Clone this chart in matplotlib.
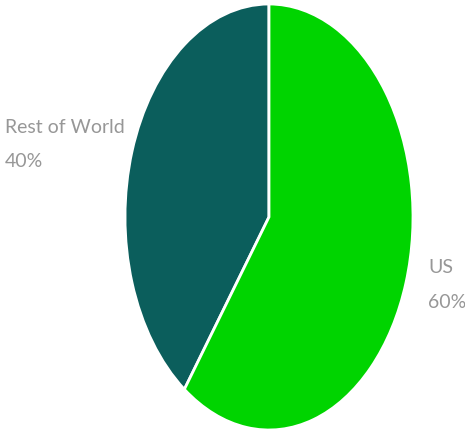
import matplotlib
matplotlib.use("Agg")
import matplotlib.pyplot as plt

categories = ["Rest of World", "US"]
values = [40, 60]
colors = ["#0b5e5c", "#00d400"]

W, H = 465, 431
fig = plt.figure(figsize=(W / 100, H / 100), dpi=100)
cx, cy, rx, ry = 269, 218, 144, 213
ax = fig.add_axes([(cx - rx) / W, (H - cy - ry) / H, 2 * rx / W, 2 * ry / H])

labels = [f"{c}\n{v}%" for c, v in zip(categories, values)]
wedges, texts = ax.pie(values, labels=labels, colors=colors, startangle=90,
                       counterclock=True, labeldistance=1.1,
                       wedgeprops=dict(edgecolor="white", linewidth=2),
                       textprops=dict(color="#979797", fontsize=14,
                                      family="Lato", fontweight="normal",
                                      linespacing=2.25))
for t in texts:
    t.set_multialignment("left")
texts[0].set_position((-1.0, 0.345))
texts[1].set_position((1.104, -0.315))
ax.set_aspect("auto")
ax.set_xlim(-1, 1)
ax.set_ylim(-1, 1)
fig.savefig("out.png", dpi=100)
